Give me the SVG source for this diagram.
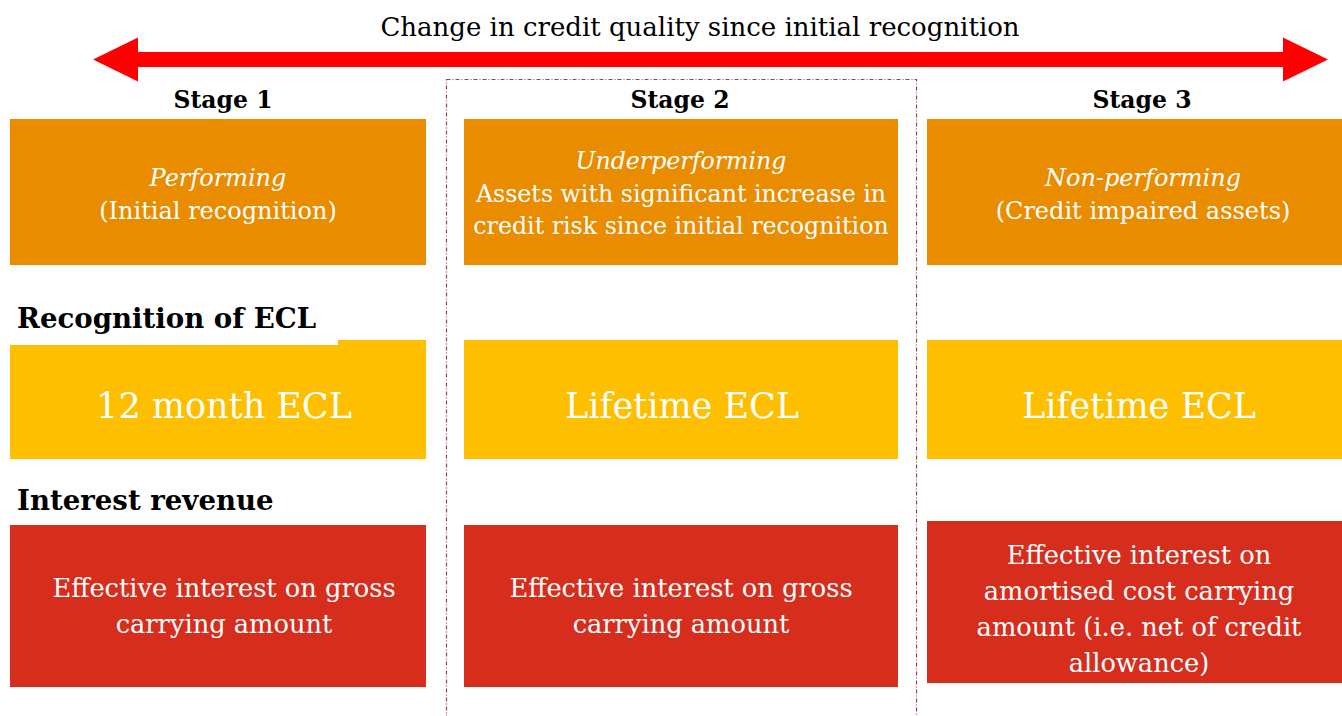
<svg xmlns="http://www.w3.org/2000/svg" width="1342" height="716" viewBox="0 0 1342 716">
<style>
.t{font-family:"DejaVu Serif","Liberation Serif",serif;text-anchor:middle;}
.w{fill:#ffffff;}
.k{fill:#000000;}
.b{font-weight:bold;}
.i{font-style:italic;}
.o{fill:#e98c00;}
.y{fill:#fdbf00;}
.r{fill:#d72d1d;}
</style>
<rect width="1342" height="716" fill="#ffffff"/>
<g id="connectors">
<polygon points="93,59.5 138,37.5 138,52 1283,52 1283,37.5 1328,59.5 1283,81.5 1283,67 138,67 138,81.5" fill="#ff0000"/>
<rect x="446.5" y="79.5" width="470" height="660" fill="none" stroke="#944450" stroke-width="1.2" stroke-dasharray="4 2 1 2"/>
</g>
<g id="title"><text class="t k" x="700" y="36" font-size="26">Change in credit quality since initial recognition</text></g>
<g id="stage1-label"><text class="t k b" x="223" y="108" font-size="23.5">Stage 1</text></g>
<g id="stage2-label"><text class="t k b" x="680" y="108" font-size="23.5">Stage 2</text></g>
<g id="stage3-label"><text class="t k b" x="1142" y="108" font-size="23.5">Stage 3</text></g>
<g id="stage1-quality">
<rect class="o" x="10" y="119" width="416" height="146"/>
<text class="t w i" x="218" y="186" font-size="24">Performing</text>
<text class="t w" x="218" y="219" font-size="24">(Initial recognition)</text>
</g>
<g id="stage2-quality">
<rect class="o" x="464" y="119" width="434" height="146"/>
<text class="t w i" x="681" y="169" font-size="23.7">Underperforming</text>
<text class="t w" x="681" y="202" font-size="23.7">Assets with significant increase in</text>
<text class="t w" x="681" y="234" font-size="23.7">credit risk since initial recognition</text>
</g>
<g id="stage3-quality">
<rect class="o" x="927" y="119" width="430" height="146"/>
<text class="t w i" x="1143" y="186" font-size="24">Non-performing</text>
<text class="t w" x="1143" y="219" font-size="24">(Credit impaired assets)</text>
</g>
<g id="stage1-ecl">
<rect class="y" x="10" y="340" width="416" height="119"/>
<text class="t w" x="224" y="418" font-size="35">12 month ECL</text>
</g>
<g id="stage2-ecl">
<rect class="y" x="464" y="340" width="434" height="119"/>
<text class="t w" x="682" y="418" font-size="35">Lifetime ECL</text>
</g>
<g id="stage3-ecl">
<rect class="y" x="927" y="340" width="430" height="119"/>
<text class="t w" x="1139" y="418" font-size="35">Lifetime ECL</text>
</g>
<g id="recognition-label">
<rect x="10" y="300" width="328" height="45" fill="#ffffff"/>
<text class="t k b" x="17" y="328" font-size="27.6" style="text-anchor:start">Recognition of ECL</text>
</g>
<g id="interest-label">
<text class="t k b" x="17" y="510" font-size="27.6" style="text-anchor:start">Interest revenue</text>
</g>
<g id="stage1-interest">
<rect class="r" x="10" y="525" width="416" height="162"/>
<text class="t w" x="224" y="597" font-size="25.7">Effective interest on gross</text>
<text class="t w" x="224" y="633" font-size="25.7">carrying amount</text>
</g>
<g id="stage2-interest">
<rect class="r" x="464" y="525" width="434" height="162"/>
<text class="t w" x="681" y="597" font-size="25.7">Effective interest on gross</text>
<text class="t w" x="681" y="633" font-size="25.7">carrying amount</text>
</g>
<g id="stage3-interest">
<rect class="r" x="927" y="521" width="430" height="162"/>
<text class="t w" x="1139" y="564" font-size="25.7">Effective interest on</text>
<text class="t w" x="1139" y="600" font-size="25.7">amortised cost carrying</text>
<text class="t w" x="1139" y="636" font-size="25.7">amount (i.e. net of credit</text>
<text class="t w" x="1139" y="672" font-size="25.7">allowance)</text>
</g>
</svg>
